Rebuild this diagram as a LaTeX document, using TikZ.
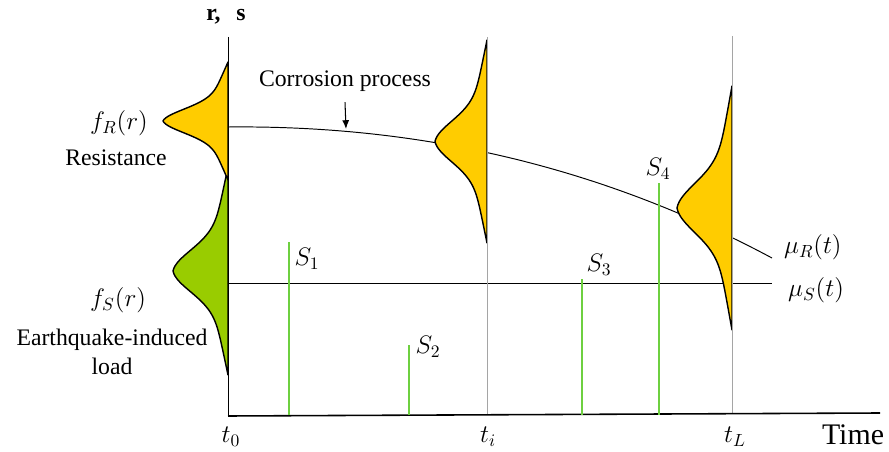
\documentclass[tikz,border=0pt]{standalone}
\usepackage{fontspec}
\setmainfont{Liberation Serif}
\usetikzlibrary{arrows.meta}
\definecolor{PdfYellow}{RGB}{255,204,0}
\definecolor{PdfGreen}{RGB}{153,204,0}
\definecolor{SpikeGreen}{RGB}{110,208,64}
\definecolor{GuideGray}{RGB}{165,165,165}
\tikzset{
  axis/.style={black,line width=0.9pt},
  vaxis/.style={black,line width=0.5pt},
  guide/.style={GuideGray,line width=0.5pt},
  mean/.style={black,line width=0.55pt},
  pdfR/.style={draw=black,fill=PdfYellow,line width=0.8pt,line join=round},
  pdfS/.style={draw=black,fill=PdfGreen,line width=0.8pt,line join=round},
  spike/.style={SpikeGreen,line width=1.6pt},
  lbl/.style={font=\fontsize{13.5}{16.5}\selectfont,inner sep=1pt,align=center},
  mlbl/.style={font=\fontsize{14}{16}\selectfont,inner sep=1pt},
  arrow/.style={-{Latex[length=5pt,width=4pt]},line width=0.6pt}
}

\begin{document}
\begin{tikzpicture}[x=0.02cm,y=-0.02cm]
  \useasboundingbox (0,0) rectangle (889,452);
  \coordinate (o) at (228,416);
  \coordinate (ytop) at (228,37);
  \coordinate (xend) at (880,413);
  \coordinate (muR0) at (228,127);
  \coordinate (muR) at (772,258);
  \coordinate (corrtip) at (346,129);
  % mean curves
  \draw[mean] (muR0) .. controls (420,125) and (600,166) .. (muR);
  \draw[mean] (228,283) -- (772,283) coordinate (muS);
  % densities
  \draw[pdfS] plot[domain=-1:1,samples=81]
    ({228-55*(0.4*(1-abs(\x))+0.6*exp(-(\x/0.28)*(\x/0.28)))},{271+104*\x}) -- cycle;
  \foreach \ax/\cy/\h/\w in {228/121/59/65, 487/141.5/101.5/52, 732/208/122/55}
    \draw[pdfR] plot[domain=-1:1,samples=81]
      ({\ax-\w*(0.4*(1-abs(\x))+0.6*exp(-(\x/0.28)*(\x/0.28)))},{\cy+\h*\x}) -- cycle;
  % axes
  \draw[guide] (487,37) -- (487,415);
  \draw[guide] (732,36) -- (732,414);
  \draw[vaxis] (ytop) -- (o);
  \draw[axis] (o) -- (xend);
  % load events
  \foreach \sx/\sy/\lx/\ly/\n in {289/242/307/259/1, 409/345/428/347/2,
      582/279/599/265/3, 659/183/658/169/4} {
    \draw[spike] (\sx,415) -- (\sx,\sy);
    \node[mlbl] (s\n) at (\lx,\ly) {$S_{\n}$};
  }
  % labels
  \node[lbl] (rs) at (226,17) {\textbf{r,\ \ \,s}};
  \node[lbl] (corr) at (345,81) {Corrosion process};
  \draw[arrow] ([yshift=-5pt]corr.south) -- (corrtip);
  \node[mlbl] (fR) at (119,123) {$f_R(r)$};
  \node[lbl] (res) at (116,158) {Resistance};
  \node[mlbl] (fS) at (118,300) {$f_S(r)$};
  \node[lbl] (eq) at (112,352) {Earthquake-induced\\load};
  \node[mlbl,anchor=west] (muRl) at (782,247) {$\mu_R(t)$};
  \node[mlbl,anchor=west] (muSl) at (786,290) {$\mu_S(t)$};
  \node[mlbl] (t0) at (231,437) {$t_0$};
  \node[mlbl] (ti) at (488,437) {$t_i$};
  \node[mlbl] (tL) at (735,437) {$t_L$};
  \node[lbl,font=\fontsize{17}{20}\selectfont] (time) at (853,435) {Time};
\end{tikzpicture}
\end{document}
